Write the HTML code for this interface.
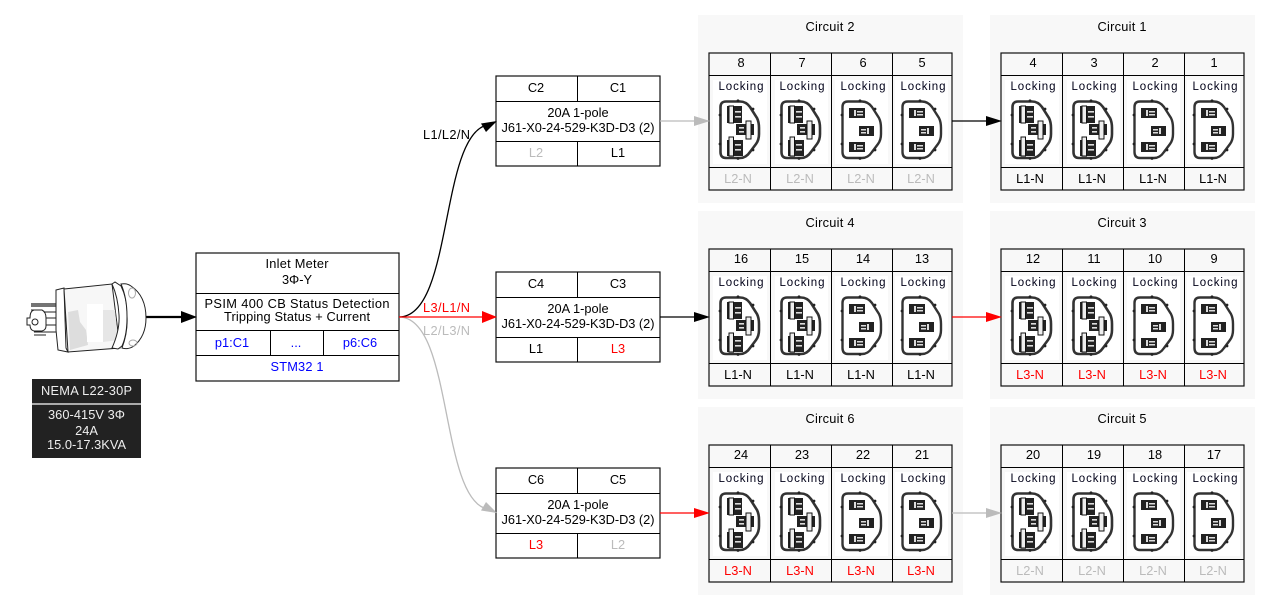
<!DOCTYPE html>
<html><head><meta charset="utf-8">
<style>
html,body{margin:0;padding:0;background:#fff;width:1271px;height:609px;overflow:hidden}
svg{display:block}
text{font-family:"Liberation Sans",sans-serif;font-size:12.8px;text-anchor:middle;fill:#000}
.lk{font-size:11.5px;fill:#000018}
.g{fill:#bbb}.r{fill:#f00}.b{fill:#00f}.w{fill:#eee}
.f{fill:none;stroke:#111;stroke-width:1.2}
.i{fill:none;stroke:#000;stroke-width:1}
</style></head><body>
<svg width="1271" height="609" viewBox="0 0 1271 609" xmlns="http://www.w3.org/2000/svg">
<defs>
<g id="lock">
<path d="M17,1.500H31Q37,1.500 41,7L48,18Q50,22 50,28V34Q50,40 47,44L41,52Q37,58 31,58H17Q11.500,58 11.500,52V7Q11.500,1.500 17,1.500Z" fill="#fff" stroke="#333" stroke-width="2.6"/>
<circle cx="29" cy="0.8" r="1.4" fill="#222"/><circle cx="29" cy="58.5" r="1.4" fill="#222"/><circle cx="11" cy="15" r="1.4" fill="#222"/><circle cx="11" cy="44" r="1.4" fill="#222"/><circle cx="44" cy="9" r="1.4" fill="#222"/><circle cx="44" cy="50" r="1.4" fill="#222"/>
<rect x="18" y="6" width="15" height="17" fill="#222"/><rect x="20" y="6" width="4.500" height="17" fill="#eee" stroke="#111" stroke-width="1"/><rect x="26" y="11" width="6" height="1.600" fill="#ddd"/><rect x="26" y="16" width="6" height="1.600" fill="#ddd"/>
<rect x="27" y="24" width="18" height="11" fill="#222"/><rect x="37" y="21" width="5" height="18" fill="#eee" stroke="#111" stroke-width="1"/><rect x="30" y="27" width="5" height="1.600" fill="#ddd"/><rect x="30" y="31" width="5" height="1.600" fill="#ddd"/>
<rect x="18" y="40" width="16" height="16" fill="#222"/><rect x="20" y="37" width="4.500" height="19" fill="#eee" stroke="#111" stroke-width="1"/><rect x="26" y="44" width="6" height="1.600" fill="#ddd"/><rect x="26" y="49" width="6" height="1.600" fill="#ddd"/>
</g>
<g id="plain">
<path d="M17,1.500H31Q37,1.500 41,7L48,18Q50,22 50,28V34Q50,40 47,44L41,52Q37,58 31,58H17Q11.500,58 11.500,52V7Q11.500,1.500 17,1.500Z" fill="#fff" stroke="#333" stroke-width="2.4"/>
<circle cx="29" cy="0.8" r="1.4" fill="#222"/><circle cx="29" cy="58.5" r="1.4" fill="#222"/><circle cx="11" cy="15" r="1.4" fill="#222"/><circle cx="11" cy="44" r="1.4" fill="#222"/><circle cx="44" cy="9" r="1.4" fill="#222"/><circle cx="44" cy="50" r="1.4" fill="#222"/>
<rect x="18" y="8" width="16" height="10" fill="#222"/><rect x="23" y="10" width="2" height="6" fill="#ddd"/><rect x="26" y="11" width="6" height="1.500" fill="#ddd"/><rect x="26" y="14" width="6" height="1.500" fill="#ddd"/>
<rect x="28" y="26" width="15" height="10" fill="#222"/><rect x="36" y="28" width="2" height="6" fill="#ddd"/><rect x="30" y="29" width="5" height="1.500" fill="#ddd"/><rect x="30" y="32" width="5" height="1.500" fill="#ddd"/>
<rect x="18" y="42" width="16" height="10" fill="#222"/><rect x="23" y="44" width="2" height="6" fill="#ddd"/><rect x="26" y="45" width="6" height="1.500" fill="#ddd"/><rect x="26" y="48" width="6" height="1.500" fill="#ddd"/>
</g>
<g id="frame">
<rect x="698" y="15" width="265" height="188" fill="#f8f8f8"/>
<rect x="713" y="80" width="54" height="84" fill="#fff"/><rect x="775" y="80" width="53" height="84" fill="#fff"/><rect x="835" y="80" width="53" height="84" fill="#fff"/><rect x="895" y="80" width="53" height="84" fill="#fff"/>
<use href="#lock" x="709" y="100"/><use href="#lock" x="770" y="100"/><use href="#plain" x="831" y="100"/><use href="#plain" x="891" y="100"/>
<rect class="f" x="709" y="53" width="243" height="137"/>
<path class="i" d="M709,75.5H952M709,167.5H952M770.5,53V190M831.5,53V190M892.5,53V190"/>
</g>
<g id="brk">
<rect class="f" x="496" y="76" width="164" height="90"/>
<path class="i" d="M496,101.5H660M496,141.5H660M577.5,76V101M577.5,141V166"/>
</g>
</defs>

<!-- clusters -->
<g>
<use href="#frame"/>
<text x="830" y="31" textLength="49">Circuit 2</text>
<text x="741" y="67">8</text><text x="802" y="67">7</text><text x="863" y="67">6</text><text x="922" y="67">5</text>
<text class="lk" x="741" y="90" textLength="45">Locking</text><text class="lk" x="802" y="90" textLength="45">Locking</text><text class="lk" x="863" y="90" textLength="45">Locking</text><text class="lk" x="923" y="90" textLength="45">Locking</text>
<text class="g" x="738" y="183">L2-N</text><text class="g" x="800" y="183">L2-N</text><text class="g" x="861" y="183">L2-N</text><text class="g" x="921" y="183">L2-N</text>
</g>
<g transform="translate(292,0)">
<use href="#frame"/>
<text x="830" y="31" textLength="49">Circuit 1</text>
<text x="741" y="67">4</text><text x="802" y="67">3</text><text x="863" y="67">2</text><text x="922" y="67">1</text>
<text class="lk" x="741" y="90" textLength="45">Locking</text><text class="lk" x="802" y="90" textLength="45">Locking</text><text class="lk" x="863" y="90" textLength="45">Locking</text><text class="lk" x="923" y="90" textLength="45">Locking</text>
<text x="738" y="183">L1-N</text><text x="800" y="183">L1-N</text><text x="861" y="183">L1-N</text><text x="921" y="183">L1-N</text>
</g>
<g transform="translate(0,196)">
<use href="#frame"/>
<text x="830" y="31" textLength="49">Circuit 4</text>
<text x="741" y="67">16</text><text x="802" y="67">15</text><text x="863" y="67">14</text><text x="922" y="67">13</text>
<text class="lk" x="741" y="90" textLength="45">Locking</text><text class="lk" x="802" y="90" textLength="45">Locking</text><text class="lk" x="863" y="90" textLength="45">Locking</text><text class="lk" x="923" y="90" textLength="45">Locking</text>
<text x="738" y="183">L1-N</text><text x="800" y="183">L1-N</text><text x="861" y="183">L1-N</text><text x="921" y="183">L1-N</text>
</g>
<g transform="translate(292,196)">
<use href="#frame"/>
<text x="830" y="31" textLength="49">Circuit 3</text>
<text x="741" y="67">12</text><text x="802" y="67">11</text><text x="863" y="67">10</text><text x="922" y="67">9</text>
<text class="lk" x="741" y="90" textLength="45">Locking</text><text class="lk" x="802" y="90" textLength="45">Locking</text><text class="lk" x="863" y="90" textLength="45">Locking</text><text class="lk" x="923" y="90" textLength="45">Locking</text>
<text class="r" x="738" y="183">L3-N</text><text class="r" x="800" y="183">L3-N</text><text class="r" x="861" y="183">L3-N</text><text class="r" x="921" y="183">L3-N</text>
</g>
<g transform="translate(0,392)">
<use href="#frame"/>
<text x="830" y="31" textLength="49">Circuit 6</text>
<text x="741" y="67">24</text><text x="802" y="67">23</text><text x="863" y="67">22</text><text x="922" y="67">21</text>
<text class="lk" x="741" y="90" textLength="45">Locking</text><text class="lk" x="802" y="90" textLength="45">Locking</text><text class="lk" x="863" y="90" textLength="45">Locking</text><text class="lk" x="923" y="90" textLength="45">Locking</text>
<text class="r" x="738" y="183">L3-N</text><text class="r" x="800" y="183">L3-N</text><text class="r" x="861" y="183">L3-N</text><text class="r" x="921" y="183">L3-N</text>
</g>
<g transform="translate(292,392)">
<use href="#frame"/>
<text x="830" y="31" textLength="49">Circuit 5</text>
<text x="741" y="67">20</text><text x="802" y="67">19</text><text x="863" y="67">18</text><text x="922" y="67">17</text>
<text class="lk" x="741" y="90" textLength="45">Locking</text><text class="lk" x="802" y="90" textLength="45">Locking</text><text class="lk" x="863" y="90" textLength="45">Locking</text><text class="lk" x="923" y="90" textLength="45">Locking</text>
<text class="g" x="738" y="183">L2-N</text><text class="g" x="800" y="183">L2-N</text><text class="g" x="861" y="183">L2-N</text><text class="g" x="921" y="183">L2-N</text>
</g>

<!-- breakers -->
<g>
<use href="#brk"/>
<text x="536" y="92">C2</text><text x="618" y="92">C1</text>
<text x="578" y="117">20A 1-pole</text><text x="578" y="132" textLength="153">J61-X0-24-529-K3D-D3 (2)</text>
<text class="g" x="536" y="157">L2</text><text x="618" y="157">L1</text>
</g>
<g transform="translate(0,196)">
<use href="#brk"/>
<text x="536" y="92">C4</text><text x="618" y="92">C3</text>
<text x="578" y="117">20A 1-pole</text><text x="578" y="132" textLength="153">J61-X0-24-529-K3D-D3 (2)</text>
<text x="536" y="157">L1</text><text class="r" x="618" y="157">L3</text>
</g>
<g transform="translate(0,392)">
<use href="#brk"/>
<text x="536" y="92">C6</text><text x="618" y="92">C5</text>
<text x="578" y="117">20A 1-pole</text><text x="578" y="132" textLength="153">J61-X0-24-529-K3D-D3 (2)</text>
<text class="r" x="536" y="157">L3</text><text class="g" x="618" y="157">L2</text>
</g>

<!-- meter -->
<rect class="f" x="196" y="253" width="203" height="128"/>
<path class="i" d="M196,293.5H399M196,330.5H399M196,355.5H399M270.5,330V355M323.5,330V355"/>
<text x="297" y="268" textLength="63">Inlet Meter</text><text x="297" y="284">3Φ-Y</text>
<text x="297" y="308" textLength="185">PSIM 400 CB Status Detection</text><text x="297" y="321" textLength="146">Tripping Status + Current</text>
<text class="b" x="232" y="347">p1:C1</text><text class="b" x="296" y="347">...</text><text class="b" x="360" y="347">p6:C6</text>
<text class="b" x="297" y="371" textLength="53">STM32 1</text>

<!-- edges -->
<path d="M146,317H182" stroke="#000" stroke-width="2.2" fill="none"/>
<path d="M181,311L197,317L181,323Z" fill="#000"/>
<path d="M399,317C452,317 440,144 484,126" stroke="#000" stroke-width="1.3" fill="none"/>
<path d="M481,123.500L497,121L486,132Z" fill="#000"/>
<path d="M399,317C452,317 440,490 484,508" stroke="#bbb" stroke-width="1.3" fill="none"/>
<path d="M486,502L497,513L481,510.500Z" fill="#bbb"/>
<path d="M399,317H484" stroke="#f00" stroke-width="1.3" fill="none"/>
<path d="M482,311L497,317L482,323Z" fill="#f00"/>
<text x="446.500" y="139" textLength="47">L1/L2/N</text>
<text class="r" x="446.500" y="312" textLength="47">L3/L1/N</text>
<text class="g" x="446.500" y="335" textLength="47">L2/L3/N</text>

<path d="M660,121H696" stroke="#bbb" stroke-width="1.2"/><path d="M694,116L710,121L694,126Z" fill="#bbb"/>
<path d="M660,317H696" stroke="#000" stroke-width="1.2"/><path d="M694,312L710,317L694,322Z" fill="#000"/>
<path d="M660,513H696" stroke="#f00" stroke-width="1.2"/><path d="M694,508L710,513L694,518Z" fill="#f00"/>
<path d="M952,121H988" stroke="#000" stroke-width="1.2"/><path d="M986,116L1002,121L986,126Z" fill="#000"/>
<path d="M952,317H988" stroke="#f00" stroke-width="1.2"/><path d="M986,312L1002,317L986,322Z" fill="#f00"/>
<path d="M952,513H988" stroke="#bbb" stroke-width="1.2"/><path d="M986,508L1002,513L986,518Z" fill="#bbb"/>

<!-- plug -->
<g fill="none" stroke="#222" stroke-width="1">
<path d="M31,306H56M31,304H56" stroke-width="1.200"/>
<path d="M36,312H56M44,318H56M44,325H56M34,332H56M34,335H46"/>
<path d="M31,310H42Q46,312 46,318V326Q46,330 42,331H34Q30,330 30,325H27V318H30Q30,311 34,310Z" fill="#fff"/>
<circle cx="35" cy="322" r="3"/>
<path d="M56,290L64,288L66,348L68,352L58,350L56,330Z" fill="#fff"/>
<path d="M64,289L112,284L120,348L68,352Z" fill="#f7f7f7"/>
<path d="M68,312L78,310L80,322L86,330L88,345L70,350Z" fill="#ddd" stroke="none"/>
<path d="M103,310L115,310L118,340L103,342Z" fill="#e6e6e6" stroke="none"/>
<rect x="87" y="304" width="16" height="38" fill="#fff" stroke="none"/>
<path d="M112,284L115,282L121,286Q128,300 127,318Q127,335 122,346L118,349L112,348Q120,330 119,315Q118,297 112,284Z" fill="#fff"/>
<path d="M121,284Q127,283 131,286Q146,296 146,318Q146,336 134,346Q128,350 122,348Q128,332 127,316Q127,298 121,284Z" fill="#fff"/>
<ellipse cx="132" cy="293" rx="3.5" ry="5" stroke="#aaa"/><ellipse cx="133" cy="343" rx="4" ry="3" stroke="#aaa"/>
</g>

<!-- NEMA box -->
<rect x="32" y="379" width="109" height="79" fill="#222"/>
<rect x="32" y="403" width="109" height="2" fill="#aaa"/>
<text class="w" x="86.500" y="395" textLength="91">NEMA L22-30P</text>
<text class="w" x="86.500" y="419" textLength="77">360-415V 3Φ</text>
<text class="w" x="86.500" y="435">24A</text>
<text class="w" x="86.500" y="449" textLength="79">15.0-17.3KVA</text>
</svg>
</body></html>
